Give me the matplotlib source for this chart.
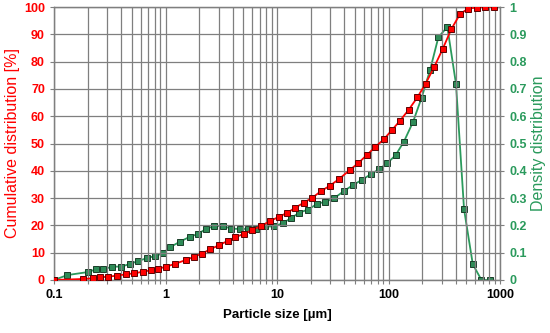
import numpy as np
import matplotlib
matplotlib.use("Agg")
from matplotlib import pyplot as plt
from matplotlib.ticker import LogLocator, NullFormatter

# cumulative distribution (left axis, %)
cum_size = [0.1, 0.181, 0.223, 0.261, 0.304, 0.366, 0.443, 0.527, 0.627, 0.744, 0.865,
            1.014, 1.205, 1.525, 1.81, 2.12, 2.52, 3.05, 3.64, 4.23, 5.02, 6.01, 7.2,
            8.59, 10.35, 12.33, 14.6, 17.4, 20.7, 24.9, 29.7, 35.8, 45, 53.5, 63.6,
            75.5, 91, 106.7, 126, 152, 181.5, 215, 256, 306, 366, 438, 517, 618, 741, 885]
cum_val = [0, 0.37, 0.62, 0.99, 1.21, 1.58, 2.09, 2.46, 3.04, 3.56, 4.14,
           4.88, 5.87, 7.33, 8.54, 9.64, 11.26, 12.83, 14.4, 15.66, 16.87, 18.33, 19.8,
           21.5, 23.1, 24.6, 26.5, 28.3, 30.1, 32.6, 34.5, 36.9, 40.3, 42.8, 45.7,
           48.6, 51.6, 54.8, 58.2, 62.4, 66.9, 71.9, 77.9, 84.6, 91.9, 97.4, 99.4, 99.8, 100, 100]

# density distribution (right axis)
dens_size = [0.1, 0.1317, 0.2008, 0.2385, 0.2773, 0.332, 0.4, 0.482, 0.572, 0.68, 0.808,
             0.948, 1.10, 1.355, 1.667, 1.94, 2.31, 2.74, 3.28, 3.89, 4.62, 5.46, 6.53,
             7.87, 9.34, 11.25, 13.4, 15.9, 19.0, 22.9, 27.2, 32.4, 39.9, 48.1, 57.9,
             69.1, 82.6, 97.5, 115.8, 137.5, 165.6, 198.3, 235.5, 280, 337, 403, 476, 570, 682, 809]
dens_val = [0, 0.018, 0.029, 0.039, 0.039, 0.049, 0.049, 0.059, 0.070, 0.080, 0.088,
            0.098, 0.12, 0.141, 0.159, 0.168, 0.187, 0.198, 0.198, 0.188, 0.187, 0.187, 0.187,
            0.196, 0.196, 0.208, 0.227, 0.247, 0.258, 0.279, 0.287, 0.299, 0.326, 0.348, 0.367,
            0.387, 0.406, 0.428, 0.457, 0.507, 0.578, 0.668, 0.768, 0.889, 0.927, 0.718, 0.259, 0.058, 0, 0]

xticks = [0.1, 1, 10, 100, 1000]
xticklabels = ['0.1', '1', '10', '100', '1000']
rticklabels = ['0', '0.1', '0.2', '0.3', '0.4', '0.5', '0.6', '0.7', '0.8', '0.9', '1']

RED = "#ff0000"
GREEN = "#2a9a5c"
GRID = '#7f7f7f'
plt.rcParams['font.family'] = ['Liberation Sans', 'DejaVu Sans']

fig = plt.figure(figsize=(5.5, 3.33), dpi=100)
ax = fig.add_axes([54/550, 1-280/333, 446/550, 273/333])
ax2 = ax.twinx()

ax.set_xscale('log')
ax.set_xlim(0.1, 1000)
ax.set_ylim(0, 100)
ax2.set_ylim(0, 1)

ax.xaxis.set_minor_locator(LogLocator(base=10, subs=np.arange(2, 10)))
ax.xaxis.set_minor_formatter(NullFormatter())
ax.set_xticks(xticks)
ax.set_xticklabels(xticklabels, fontweight='bold', fontsize=9)
ax.set_yticks(range(0, 101, 10))
ax2.set_yticks(np.arange(0, 1.01, 0.1))
ax2.set_yticklabels(rticklabels)

ax.grid(True, which='both', axis='x', color=GRID, linewidth=0.9)
ax.grid(True, which='major', axis='y', color=GRID, linewidth=0.9)

for a in (ax, ax2):
    for s in a.spines.values():
        s.set_color(GRID)
        s.set_linewidth(0.9)

ax.tick_params(axis='y', color=GRID, labelcolor=RED, labelsize=9, length=3, width=0.8)
ax.tick_params(axis='x', which='both', color=GRID, labelcolor='black', length=3, width=0.8)
ax2.tick_params(axis='y', color=GRID, labelcolor=GREEN, labelsize=9, length=3, width=0.8)
for lab in ax.get_yticklabels() + ax2.get_yticklabels():
    lab.set_fontweight('bold')

ax2.plot(dens_size, dens_val, color=GREEN, linewidth=1.3, marker='s', markersize=4.3,
         markerfacecolor='#2e8b57', markeredgecolor='#1a3d28', markeredgewidth=0.7, zorder=3)
ax.plot(cum_size, cum_val, color=RED, linewidth=1.3, marker='s', markersize=4.3,
        markerfacecolor=RED, markeredgecolor='#600000', markeredgewidth=0.7, zorder=3)
ax.set_zorder(ax2.get_zorder() + 1)
ax.patch.set_visible(False)

ax.set_xlabel('Particle size [\u00b5m]', fontsize=9.5, fontweight='bold', labelpad=6)
ax.set_ylabel('Cumulative distribution [%]', fontsize=11.5, color=RED, labelpad=3)
ax2.set_ylabel('Density distribution', fontsize=11.5, color=GREEN, labelpad=3)

fig.savefig('out.png', dpi=100)
